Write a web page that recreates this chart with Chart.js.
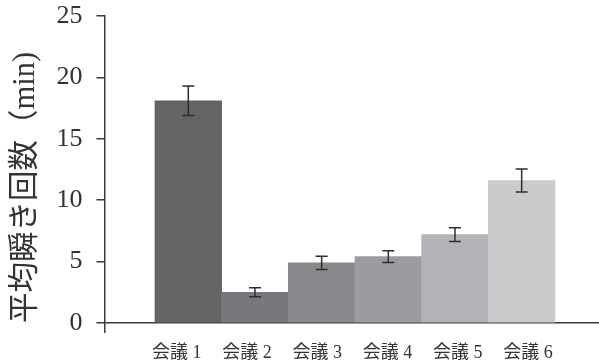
<!DOCTYPE html>
<html lang="ja">
<head>
<meta charset="utf-8">
<title>平均瞬き回数</title>
<script src="https://cdn.jsdelivr.net/npm/chart.js@4.4.0/dist/chart.umd.min.js"></script>
<style>
    html, body { margin: 0; padding: 0; background: #fff; }
    #wrap { width: 599px; height: 364px; position: relative; }
</style>
</head>
<body>
<div id="wrap"><canvas id="myChart"></canvas></div>
<script>
// データ
const categories = ['会議 1', '会議 2', '会議 3', '会議 4', '会議 5', '会議 6'];
const meanBlinks = [18.1, 2.5, 4.9, 5.4, 7.2, 11.6];
const errorSize = [1.2, 0.37, 0.54, 0.48, 0.56, 0.94];
const barColors = ['#646466', '#77787b', '#88898c', '#9b9c9f', '#b3b4b7', '#cacbcd'];
const yTicks = [0, 5, 10, 15, 20, 25];

const axisColor = '#3a3a3a';
const fontFamily = "'Liberation Serif', 'Noto Sans CJK JP', serif";
const xMin = -0.257;
const xMax = 7.16;
// ラベルは棒より少し広めの間隔で並べる
const labelSpread = 1.054;
const labelCenter = 3.46;

document.addEventListener('DOMContentLoaded', function () {
    // エラーバー
    const errorBars = {
        id: 'errorBars',
        afterDatasetsDraw(chart) {
            const ctx = chart.ctx;
            const x = chart.scales.x;
            const y = chart.scales.y;
            ctx.save();
            ctx.strokeStyle = '#2e2e2e';
            ctx.lineWidth = 1.5;
            meanBlinks.forEach((v, i) => {
                const px = x.getPixelForValue(i + 1);
                const top = y.getPixelForValue(v + errorSize[i]);
                const bottom = y.getPixelForValue(v - errorSize[i]);
                ctx.beginPath();
                ctx.moveTo(px, top);
                ctx.lineTo(px, bottom);
                ctx.moveTo(px - 6, top);
                ctx.lineTo(px + 6, top);
                ctx.moveTo(px - 6, bottom);
                ctx.lineTo(px + 6, bottom);
                ctx.stroke();
            });
            ctx.restore();
        }
    };

    function labelPositions() {
        const mid = (categories.length + 1) / 2;
        return categories.map((c, i) => labelCenter + (i + 1 - mid) * labelSpread);
    }

    function initializeChart() {
        const ctx = document.getElementById('myChart').getContext('2d');
        new Chart(ctx, {
            type: 'bar',
            data: {
                datasets: [{
                    data: meanBlinks.map((v, i) => ({ x: i + 1, y: v })),
                    backgroundColor: barColors,
                    borderWidth: 0,
                    barPercentage: 1,
                    categoryPercentage: 1
                }]
            },
            options: {
                responsive: true,
                maintainAspectRatio: false,
                animation: false,
                layout: { padding: { top: 16, left: 0, right: 0, bottom: 0 } },
                plugins: {
                    legend: { display: false },
                    tooltip: { enabled: false }
                },
                scales: {
                    x: {
                        type: 'linear',
                        offset: false,
                        min: xMin,
                        max: xMax,
                        afterBuildTicks: scale => {
                            scale.ticks = [xMin].concat(labelPositions()).map(v => ({ value: v }));
                        },
                        afterFit: scale => {
                            scale.height = 41;
                            scale.paddingLeft = 0;
                            scale.paddingRight = 0;
                        },
                        border: { display: true, color: axisColor, width: 1.5 },
                        grid: {
                            offset: false,
                            drawOnChartArea: false,
                            tickLength: 10,
                            lineWidth: 1.5,
                            color: c => (c.tick && c.tick.value === xMin) ? axisColor : 'rgba(0,0,0,0)'
                        },
                        ticks: {
                            autoSkip: false,
                            maxRotation: 0,
                            padding: 9,
                            color: '#333',
                            font: { family: fontFamily, size: 18 },
                            callback: (v, i) => i > 0 ? categories[i - 1] : ''
                        }
                    },
                    y: {
                        min: 0,
                        max: 25,
                        afterBuildTicks: scale => {
                            scale.ticks = yTicks.map(v => ({ value: v }));
                        },
                        afterFit: scale => {
                            scale.width = 104.5;
                            scale.paddingTop = 0;
                            scale.paddingBottom = 0;
                        },
                        border: { display: true, color: axisColor, width: 1.5 },
                        grid: {
                            drawOnChartArea: false,
                            tickLength: 8,
                            lineWidth: 1.5,
                            color: axisColor
                        },
                        ticks: {
                            padding: 14,
                            color: '#333',
                            font: { family: fontFamily, size: 26 }
                        },
                        title: {
                            display: true,
                            text: '平均瞬き回数（min)',
                            align: 'start',
                            color: '#333',
                            padding: { top: 8 },
                            font: { family: fontFamily, size: 30.5 }
                        }
                    }
                }
            },
            plugins: [errorBars]
        });
    }

    initializeChart();
});
</script>
</body>
</html>
